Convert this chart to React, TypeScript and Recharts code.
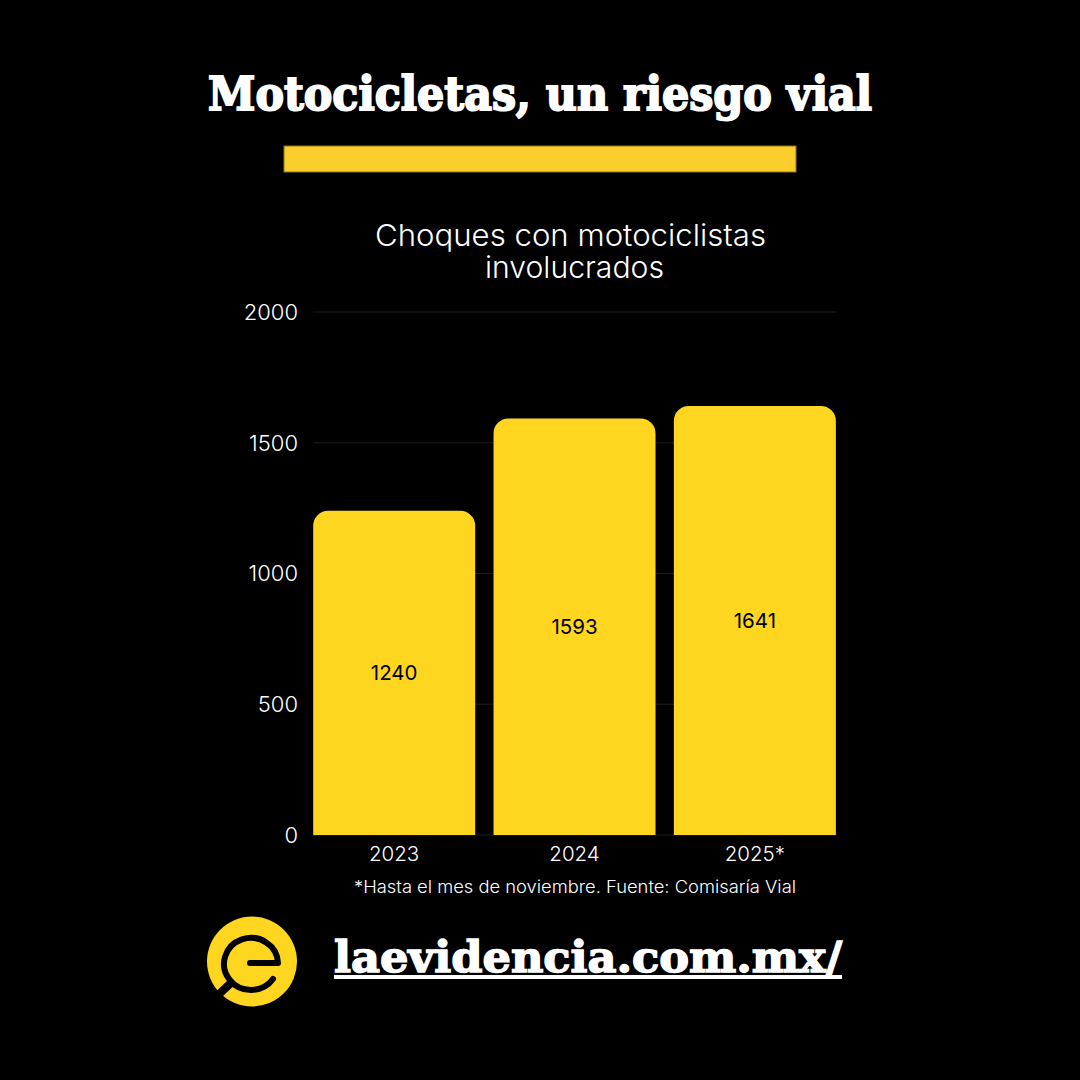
import React from "react";
import { BarChart, Bar, XAxis, YAxis, CartesianGrid, LabelList } from "recharts";

const years = ["2023", "2024", "2025*"];
const crashes = [1240, 1593, 1641];
const yTicks = [0, 500, 1000, 1500, 2000];
const titleText = "Motocicletas, un riesgo vial";
const subtitleLines = ["Choques con motociclistas", "involucrados"];
const noteText = "*Hasta el mes de noviembre. Fuente: Comisaría Vial";
const siteText = "laevidencia.com.mx/";

const rows = years.map((year, i) => ({ year, crashes: crashes[i] }));
const SANS = "Inter, 'Noto Sans', sans-serif";
const SLAB = "'DejaVu Serif', serif";

export default function App() {
  return (
    <div style={{ position: "absolute", left: 0, top: 0, width: 1080, height: 1080, background: "#000", overflow: "hidden" }}>
      <div style={{ position: "absolute", left: 0, top: 0 }}>
        <BarChart
          width={1080}
          height={1080}
          data={rows}
          margin={{ top: 312, right: 244, bottom: 205, left: 243 }}
          barCategoryGap={9.2}
        >
          <CartesianGrid horizontal vertical={false} stroke="#1c1c1c" strokeWidth={1} />
          <XAxis
            dataKey="year"
            padding={{ left: -9, right: -9 }}
            axisLine={false}
            tickLine={false}
            tick={{ fill: "#fff", fontSize: 20.5, fontFamily: SANS, fontWeight: 300 }}
            tickMargin={5}
            height={40}
            interval={0}
          />
          <YAxis
            type="number"
            domain={[0, 2000]}
            ticks={yTicks}
            axisLine={false}
            tickLine={false}
            tick={{ fill: "#fff", fontSize: 22, fontFamily: SANS, fontWeight: 300 }}
            tickMargin={9}
            width={70}
            interval={0}
          />
          <Bar dataKey="crashes" fill="#FFD61F" radius={[15, 15, 0, 0]} isAnimationActive={false}>
            <LabelList dataKey="crashes" position="center" fill="#000" fontSize={20.5} fontFamily={SANS} fontWeight={400} />
          </Bar>
        </BarChart>
      </div>
      <svg width={1080} height={1080} style={{ position: "absolute", left: 0, top: 0, pointerEvents: "none" }}>
        <text x={208} y={110} textLength={664} lengthAdjust="spacingAndGlyphs" fontFamily={SLAB} fontWeight={700} fontSize={47} fill="#fff" stroke="#fff" strokeWidth={2}>{titleText}</text>
        <rect x={284} y={146} width={512} height={26} fill="#FBCE2B" stroke="#8f7418" strokeWidth={1} />
        <text x={375} y={246} textLength={391} lengthAdjust="spacingAndGlyphs" fontFamily={SANS} fontWeight={300} fontSize={30} fill="#fff">{subtitleLines[0]}</text>
        <text x={485} y={278} textLength={179} lengthAdjust="spacingAndGlyphs" fontFamily={SANS} fontWeight={300} fontSize={30} fill="#fff">{subtitleLines[1]}</text>
        <text x={354} y={893} textLength={442} lengthAdjust="spacingAndGlyphs" fontFamily={SANS} fontWeight={300} fontSize={17} fill="#fff">{noteText}</text>
        <text x={334} y={972} textLength={508} lengthAdjust="spacingAndGlyphs" fontFamily={SLAB} fontWeight={700} fontSize={43} fill="#fff" stroke="#fff" strokeWidth={1.5}>{siteText}</text>
        <rect x={334} y={975} width={508} height={4} fill="#fff" />
        <circle cx={252} cy={961.5} r={45} fill="#FFD61F" />
        <path d="M250 963 L278 963 A27 26 0 1 0 273 979" fill="none" stroke="#000" strokeWidth={6} strokeLinecap="round" strokeLinejoin="round" />
        <path d="M233 981 L216 997" stroke="#000" strokeWidth={8} />
      </svg>
    </div>
  );
}
